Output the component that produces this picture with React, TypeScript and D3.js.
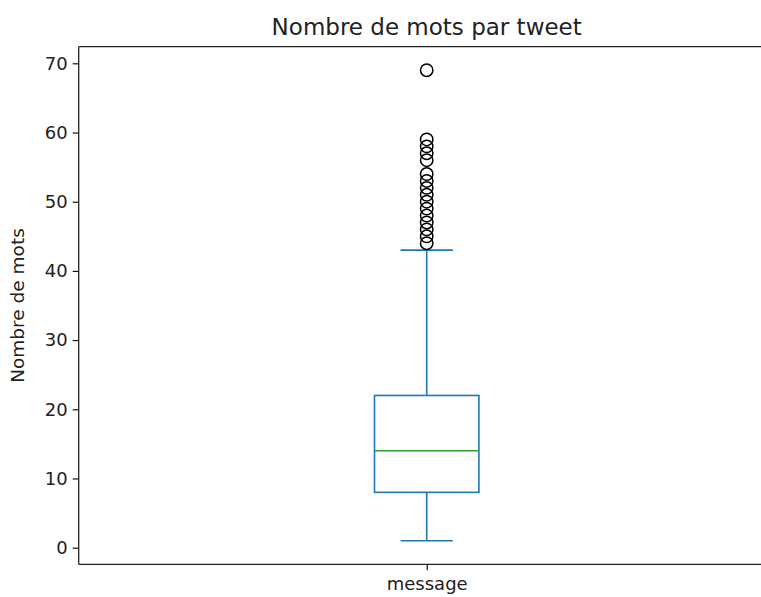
import React, { useEffect, useRef } from 'react';
import * as d3 from 'd3';

const categories: string[] = ['message'];
const quartiles: number[] = [8, 14, 22]; // q1, median, q3
const whiskers: number[] = [1, 43];
const outliers: number[] = [69, 59, 58, 57, 56, 54, 53, 52, 51, 50, 49, 48, 47, 46, 45, 44];
const yTicks: number[] = [0, 10, 20, 30, 40, 50, 60, 70];

const width = 761;
const height = 597;
const margin = { top: 46.7, right: -13.7, bottom: 32.7, left: 78.7 };

export const BoxChart: React.FC = () => {
    const ref = useRef<SVGSVGElement>(null);

    useEffect(() => {
        drawBox();
        //eslint-disable-next-line
    }, []);

    const drawBox = () => {
        const svg = d3.select(ref.current);
        svg.selectAll('*').remove();

        const font = 'DejaVu Sans, sans-serif';
        const x = d3.scaleLinear().domain([0.5, 1.5]).range([margin.left, width - margin.right]);
        const y = d3.scaleLinear().domain([-2.4, 72.4]).range([height - margin.bottom, margin.top]);
        const blue = '#1f77b4';
        const pos = 1;
        const bw = 0.15;

        // y axis
        const yAxis = svg.append('g')
            .attr('transform', `translate(${margin.left},0)`)
            .call(d3.axisLeft(y).tickValues(yTicks).tickSize(6).tickPadding(5).tickSizeOuter(0));
        yAxis.select('.domain').remove();
        yAxis.selectAll('.tick line').attr('stroke', '#000').attr('stroke-width', 1.1);
        yAxis.selectAll('.tick text')
            .attr('font-family', font).attr('font-size', 18).attr('fill', '#222');

        // x axis
        const xAxis = svg.append('g')
            .attr('transform', `translate(0,${height - margin.bottom})`)
            .call(d3.axisBottom(x).tickValues([pos]).tickFormat(() => categories[0]).tickSize(6).tickPadding(7).tickSizeOuter(0));
        xAxis.select('.domain').remove();
        xAxis.selectAll('.tick line').attr('stroke', '#000').attr('stroke-width', 1.1);
        xAxis.selectAll('.tick text')
            .attr('font-family', font).attr('font-size', 18).attr('fill', '#222');

        // spines (right one falls outside the picture)
        const x0 = margin.left, x1 = width - margin.right;
        const y0 = margin.top, y1 = height - margin.bottom;
        const spines = svg.append('g').attr('stroke', '#222').attr('stroke-width', 1.3);
        spines.append('line').attr('x1', x0).attr('x2', x1).attr('y1', y0).attr('y2', y0);
        spines.append('line').attr('x1', x0).attr('x2', x1).attr('y1', y1).attr('y2', y1);
        spines.append('line').attr('x1', x0).attr('x2', x0).attr('y1', y0).attr('y2', y1);

        const g = svg.append('g').attr('stroke', blue).attr('stroke-width', 1.6).attr('fill', 'none');

        // whiskers
        g.append('line').attr('x1', x(pos)).attr('x2', x(pos)).attr('y1', y(quartiles[0])).attr('y2', y(whiskers[0]));
        g.append('line').attr('x1', x(pos)).attr('x2', x(pos)).attr('y1', y(quartiles[2])).attr('y2', y(whiskers[1]));
        whiskers.forEach(w => {
            g.append('line')
                .attr('x1', x(pos - bw / 4)).attr('x2', x(pos + bw / 4))
                .attr('y1', y(w)).attr('y2', y(w));
        });

        // box
        g.append('rect')
            .attr('x', x(pos - bw / 2)).attr('y', y(quartiles[2]))
            .attr('width', x(pos + bw / 2) - x(pos - bw / 2))
            .attr('height', y(quartiles[0]) - y(quartiles[2]));

        // median
        svg.append('line')
            .attr('x1', x(pos - bw / 2)).attr('x2', x(pos + bw / 2))
            .attr('y1', y(quartiles[1])).attr('y2', y(quartiles[1]))
            .attr('stroke', '#2ca02c').attr('stroke-width', 1.6);

        // outliers
        svg.selectAll('.flier')
            .data(outliers)
            .enter()
            .append('circle')
            .attr('class', 'flier')
            .attr('cx', x(pos))
            .attr('cy', d => y(d))
            .attr('r', 6.2)
            .attr('fill', 'none')
            .attr('stroke', '#000')
            .attr('stroke-width', 1.5);

        // title
        svg.append('text')
            .attr('x', x(pos)).attr('y', 35)
            .attr('text-anchor', 'middle')
            .attr('font-family', font).attr('font-size', 23).attr('fill', '#222')
            .text('Nombre de mots par tweet');

        // y label
        svg.append('text')
            .attr('transform', `translate(24,${(margin.top + height - margin.bottom) / 2}) rotate(-90)`)
            .attr('text-anchor', 'middle')
            .attr('font-family', font).attr('font-size', 18.5).attr('fill', '#222')
            .text('Nombre de mots');
    };

    return (
        <div style={{ position: 'absolute', left: 0, top: 0, width, height, overflow: 'hidden' }}>
            <svg ref={ref} width={width} height={height} style={{ display: 'block' }}></svg>
        </div>
    );
};

export default function App() {
    return <BoxChart />;
}
